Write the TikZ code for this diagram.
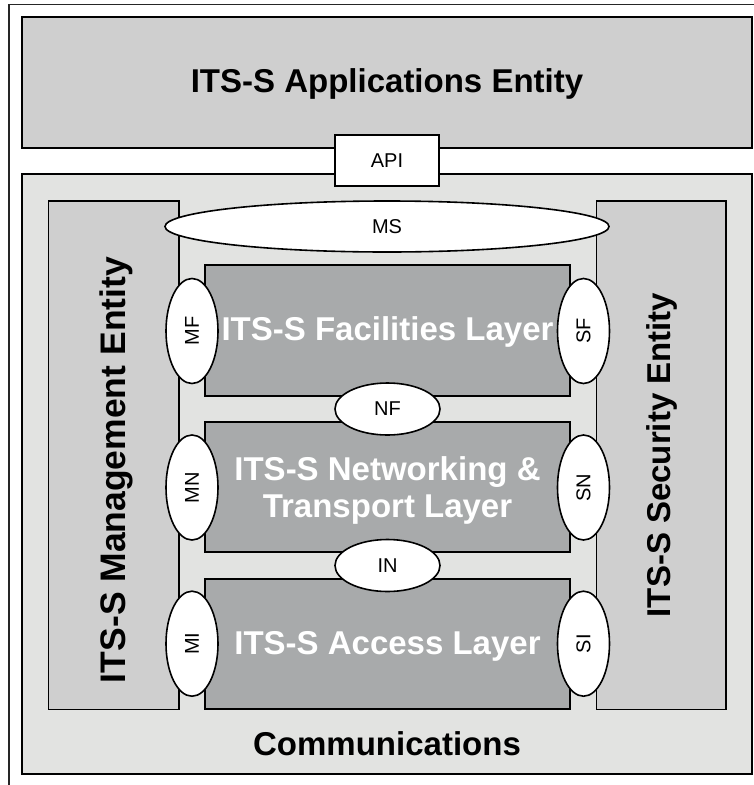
\documentclass[tikz,border=0pt]{standalone}
\usepackage{fontspec}
\setmainfont{Liberation Sans}
\usetikzlibrary{shapes.geometric}
\definecolor{appgray}{HTML}{CFCFCF}
\definecolor{commgray}{HTML}{E2E3E1}
\definecolor{laygray}{HTML}{A8AAAB}
\begin{document}
\begin{tikzpicture}[x=1pt,y=-1pt,
  box/.style={draw=black, line width=1.6pt, inner sep=0pt},
  bigtxt/.style={font=\fontsize{33}{38}\selectfont\bfseries},
  smalltxt/.style={font=\fontsize{20}{24}\selectfont},
  oval/.style={draw=black, line width=1.6pt, fill=white, ellipse, inner sep=0pt, font=\fontsize{20}{24}\selectfont},
  layer/.style={box, fill=laygray, minimum width=365pt},
  laytxt/.style={text=white, font=\fontsize{33}{37}\selectfont\bfseries, align=center}
]
\useasboundingbox (0,0) rectangle (754,785);
% outer frame
\coordinate (fbl) at (9,785);
\coordinate (ftl) at (9,4.5);
\coordinate (ftr) at (754,4.5);
\draw[line width=1.6pt, black!85] (fbl) -- (ftl) -- (ftr);

% applications entity
\node[box, fill=appgray, minimum width=730pt, minimum height=131pt] (app) at (387,82.5) {};
\node[bigtxt] (apptxt) at (387,84) {ITS-S Applications Entity};
% communications
\node[box, fill=commgray, minimum width=730pt, minimum height=600pt] (comm) at (387,474) {};
\node[bigtxt] (commtxt) at (387,744) {Communications};
% API
\node[box, fill=white, minimum width=104pt, minimum height=51pt, smalltxt] (api) at (387,160.5) {API};

% side entities
\node[box, fill=appgray, minimum width=130.7pt, minimum height=508.6pt] (mgmt) at (113.7,455) {};
\node[font=\fontsize{35.5}{40}\selectfont\bfseries, rotate=90] (mgmttxt) at (116,470) {ITS-S Management Entity};
\node[box, fill=appgray, minimum width=129.3pt, minimum height=508.6pt] (sec) at (661.3,455) {};
\node[bigtxt, rotate=90] (sectxt) at (662,455) {ITS-S Security Entity};

% layers
\node[layer, minimum height=131pt] (fac) at (387.5,330.5) {};
\node[layer, minimum height=130pt] (net) at (387.5,487) {};
\node[layer, minimum height=130pt] (acc) at (387.5,644) {};
\node[laytxt] (factxt) at (387.5,332) {ITS-S Facilities Layer};
\node[laytxt] (nettxt) at (387.5,490) {ITS-S Networking \&\\Transport Layer};
\node[laytxt] (acctxt) at (387.5,646.5) {ITS-S Access Layer};

% interfaces
\node[oval, minimum width=444pt, minimum height=51pt] (ms) at (387,226.5) {MS};
\node[oval, minimum width=105pt, minimum height=52pt] (nf) at (387.5,409) {NF};
\node[oval, minimum width=105pt, minimum height=52pt] (in) at (387.5,565.5) {IN};
\node[oval, minimum width=52pt, minimum height=105pt] (mf) at (192,331) {};
\node[oval, minimum width=52pt, minimum height=105pt] (mn) at (192,487.5) {};
\node[oval, minimum width=52pt, minimum height=105pt] (mi) at (192,643.7) {};
\node[oval, minimum width=52pt, minimum height=105pt] (sf) at (583.5,331) {};
\node[oval, minimum width=52pt, minimum height=105pt] (sn) at (583.5,487.5) {};
\node[oval, minimum width=52pt, minimum height=105pt] (si) at (583.5,643.7) {};
\node[smalltxt, rotate=90] at (mf) {MF};
\node[smalltxt, rotate=90] at (mn) {MN};
\node[smalltxt, rotate=90] at (mi) {MI};
\node[smalltxt, rotate=90] at (sf) {SF};
\node[smalltxt, rotate=90] at (sn) {SN};
\node[smalltxt, rotate=90] at (si) {SI};
\end{tikzpicture}
\end{document}
